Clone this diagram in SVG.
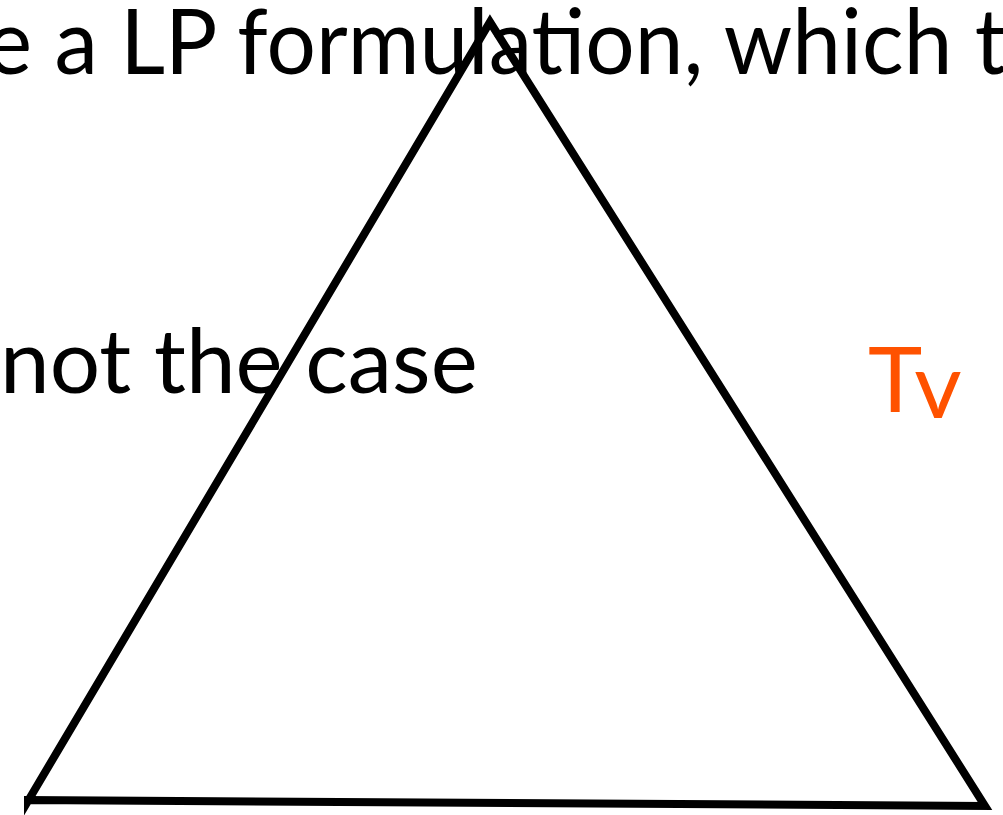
<svg xmlns="http://www.w3.org/2000/svg" width="1003" height="815" viewBox="0 0 1003 815">
<style>
.t{font-family:"Lato","Liberation Sans",sans-serif;fill:#000}
.o{fill:#FF5200}
.tri{fill:none;stroke:#000;stroke-width:8;stroke-linejoin:miter;stroke-miterlimit:10}
</style>
<rect width="1003" height="815" fill="#fff"/>
<text class="t" x="-14" y="74" font-size="92" textLength="1020" lengthAdjust="spacingAndGlyphs">e a LP formulation, which t</text>
<text class="t" x="0" y="393" font-size="89">not the case</text>
<text class="t o" x="868" y="412" font-size="92">T<tspan dy="6">v</tspan></text>
<path class="tri" d="M 28 801 L 490 22 L 985 806 L 28 800 Z"/>
</svg>
